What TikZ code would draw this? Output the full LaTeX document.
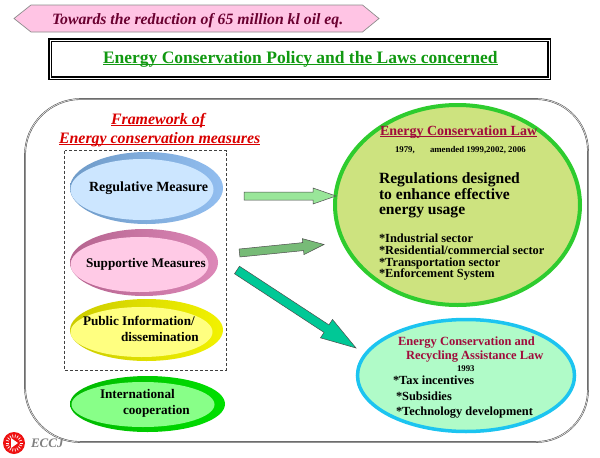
\documentclass[tikz,border=0pt]{standalone}
\usepackage{fontspec}
\setmainfont{Liberation Serif}
\usetikzlibrary{shapes.geometric,calc}
\definecolor{bannerfill}{HTML}{FFC4E4}
\definecolor{maroon}{HTML}{6A0030}
\definecolor{lawred}{HTML}{A00C3C}
\definecolor{titlegreen}{HTML}{119911}
\newcommand{\hc}[1]{\definecolor{HTML#1}{HTML}{#1}}
\hc{6F9BC8}\hc{92BEF0}\hc{CCE6FF}\hc{B5648F}\hc{DD88B8}\hc{FFCAE6}\hc{CCCC00}\hc{F2F200}\hc{FFFF80}\hc{00B800}\hc{00E000}\hc{88FF88}\hc{2ECC2E}\hc{CDE37F}\hc{1CC4F0}\hc{B0FBC8}\hc{99E699}\hc{77BB77}\hc{00C896}\hc{EE1111}
\newcommand{\uline}[1]{\setbox0=\hbox{#1}\leavevmode\rlap{\copy0}\rule[-1.7pt]{\wd0}{.9pt}}
\tikzset{
  x=1pt,y=-1pt,
  oval/.style={ellipse,inner sep=0pt,outer sep=0pt,draw=none},
  lab/.style={anchor=base west,inner sep=0pt,outer sep=0pt,font=\fontsize{12.4}{14}\selectfont\bfseries,text=black},
  measure/.style={lab,font=\fontsize{13.2}{15}\selectfont\bfseries},
  law/.style={lab,text=lawred,font=\fontsize{14}{16}\selectfont\bfseries},
  tiny/.style={lab,font=\fontsize{8.8}{10}\selectfont\bfseries},
  big/.style={lab,font=\fontsize{15.6}{17}\selectfont\bfseries},
  blockarrow/.style={draw=black!70,line width=.5pt,line join=miter},
}
\newcommand{\blockarr}[6]{%
  \coordinate (h) at ($(#2)!#4!(#3)$);
  \filldraw[blockarrow,fill=#1] ($(#2)!#5!90:(#3)$) -- ($(h)!#5!90:(#3)$) -- ($(h)!#6!90:(#3)$) -- (#3) -- ($(h)!#6!-90:(#3)$) -- ($(h)!#5!-90:(#3)$) -- ($(#2)!#5!-90:(#3)$) -- cycle;}
\begin{document}
\begin{tikzpicture}
\useasboundingbox (0,0) rectangle (600,458);
\fill[white] (0,0) rectangle (600,458);
% banner
\filldraw[fill=bannerfill,draw=black!45,line width=.7pt] (14,18.5) -- (31,5) -- (362.5,5) -- (379,18.5) -- (362.5,32) -- (31,32) -- cycle;
\node[lab,text=maroon,font=\fontsize{15.75}{17}\selectfont\bfseries\itshape] (banner) at (52,24) {Towards the reduction of 65 million kl oil eq.};
% title
\draw[draw=black,line width=1.4pt,double=white,double distance=1pt] (50,40) rectangle (549,78);
\node[lab,text=titlegreen,font=\fontsize{17.5}{20}\selectfont\bfseries] (title) at (103,63) {\uline{Energy Conservation Policy and the Laws concerned}};
% frame
\draw[draw=black!65,line width=.6pt,double=white,double distance=.5pt] (25,155) arc[start angle=180,end angle=270,radius=56] -- (536,99) arc[start angle=270,end angle=360,radius=52] -- (588,390) arc[start angle=0,end angle=90,radius=52] -- (80,442) arc[start angle=90,end angle=180,radius=55] -- cycle;
% framework
\node[lab,text=red!85!black,font=\fontsize{15.9}{17}\selectfont\bfseries\itshape] (fw1) at (111,124) {\uline{Framework of}};
\node[lab,text=red!85!black,font=\fontsize{15.9}{17}\selectfont\bfseries\itshape] (fw2) at (59,143) {\uline{Energy conservation measures}};
\draw[black!75,densely dashed,line width=.5pt] (64.5,150.5) rectangle (226,370);
% blue
\node[oval,left color=HTML6F9BC8,right color=HTML92BEF0,minimum width=153pt,minimum height=72pt] (regO) at (146.5,188) {};
\node[oval,fill=HTMLCCE6FF,minimum width=143pt,minimum height=61pt] (regI) at (142,189.5) {};
\node[measure,font=\fontsize{14}{16}\selectfont\bfseries] (reg) at (89,191) {Regulative Measure};
% pink
\node[oval,left color=HTMLB5648F,right color=HTMLDD88B8,minimum width=148pt,minimum height=67pt] (supO) at (144,262.5) {};
\node[oval,fill=HTMLFFCAE6,minimum width=138pt,minimum height=55pt] (supI) at (139.5,264.5) {};
\node[measure] (sup) at (86,267) {Supportive Measures};
% yellow
\node[oval,left color=HTMLCCCC00,right color=HTMLF2F200,minimum width=153pt,minimum height=62pt] (pubO) at (146.5,330) {};
\node[oval,fill=HTMLFFFF80,minimum width=142pt,minimum height=50pt] (pubI) at (141.5,332) {};
\node[measure] (pub1) at (83,325) {Public Information/};
\node[measure] (pub2) at (121,341) {dissemination};
% green
\node[oval,left color=HTML00B800,right color=HTML00E000,minimum width=155pt,minimum height=56pt] (intO) at (147.5,404) {};
\node[oval,fill=HTML88FF88,minimum width=143pt,minimum height=45pt] (intI) at (143,404.5) {};
\node[measure] (int1) at (100,398) {International};
\node[measure] (int2) at (123,414) {cooperation};
% law ellipses
\node[oval,draw=HTML2ECC2E,fill=HTMLCDE37F,line width=4pt,minimum width=245pt,minimum height=200pt] (ecl) at (457.5,205) {};
\node[law] (ecl0) at (380,135) {\uline{Energy Conservation Law}};
\node[tiny] (y1) at (395,152) {1979,};
\node[tiny] (y2) at (430,152) {amended 1999,2002, 2006};
\node[big] (r1) at (379,183) {Regulations designed};
\node[big] (r2) at (379,199) {to enhance effective};
\node[big] (r3) at (379,214) {energy usage};
\node[lab] (s1) at (379,242) {*Industrial sector};
\node[lab] (s2) at (379,254) {*Residential/commercial sector};
\node[lab] (s3) at (379,266) {*Transportation sector};
\node[lab] (s4) at (379,277) {*Enforcement System};
\node[oval,draw=HTML1CC4F0,fill=HTMLB0FBC8,line width=3.5pt,minimum width=217pt,minimum height=112pt] (rec) at (466,375.5) {};
\node[law,font=\fontsize{12.5}{14}\selectfont\bfseries] (rec1) at (398,345) {Energy Conservation and};
\node[law,font=\fontsize{12.5}{14}\selectfont\bfseries] (rec2) at (406,359) {Recycling Assistance Law};
\node[tiny] (y3) at (457,371) {1993};
\node[lab] (t1) at (393,384) {*Tax incentives};
\node[lab] (t2) at (396,400) {*Subsidies};
\node[lab] (t3) at (396,415) {*Technology development};
% arrows
\coordinate (a1t) at (244,196); \coordinate (a1h) at (336,196);
\coordinate (a2t) at (239.5,253); \coordinate (a2h) at (324,244.5);
\coordinate (a3t) at (237,270); \coordinate (a3h) at (356,348);
\blockarr{HTML99E699}{a1t}{a1h}{69pt}{4pt}{8pt}
\blockarr{HTML77BB77}{a2t}{a2h}{64pt}{4pt}{8pt}
\blockarr{HTML00C896}{a3t}{a3h}{107pt}{4.5pt}{11pt}
% logo
\node[circle,fill=HTMLEE1111,minimum size=22pt,inner sep=0pt] (logo) at (14,443) {};
\foreach \a in {0,20,...,340}{\draw[white,line width=.7pt] ($(logo)+(\a:5.5)$) -- ($(logo)+(\a:8.5)$);}
\fill[white] (11,438) -- (18,443) -- (11,448) -- cycle;
\node[lab,text=black!50,font=\fontsize{13}{14}\selectfont\bfseries\itshape] (eccj) at (31,447) {ECCJ};
\end{tikzpicture}
\end{document}
